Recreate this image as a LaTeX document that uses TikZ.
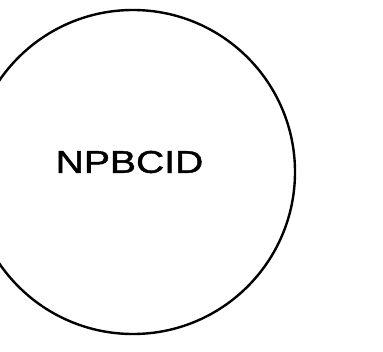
\documentclass[tikz,border=0pt]{standalone}
\usepackage{fontspec}
\setmainfont{Liberation Sans}[BoldFont=Liberation Sans, BoldFeatures={FakeBold=1.2}]
\usetikzlibrary{positioning}

\begin{document}
\begin{tikzpicture}[y=-1pt, x=1pt]
            \useasboundingbox (0,0) rectangle (383,351);
            \clip (0,0) rectangle (383,351);
            \draw[line width=2.4pt] (133,172) circle (162);
            \node[font=\fontsize{31.5}{36}\selectfont\bfseries, xscale=1.24, inner sep=0pt] (npbcid) at (129.5,162) {NPBCID};
        \end{tikzpicture}
\end{document}
